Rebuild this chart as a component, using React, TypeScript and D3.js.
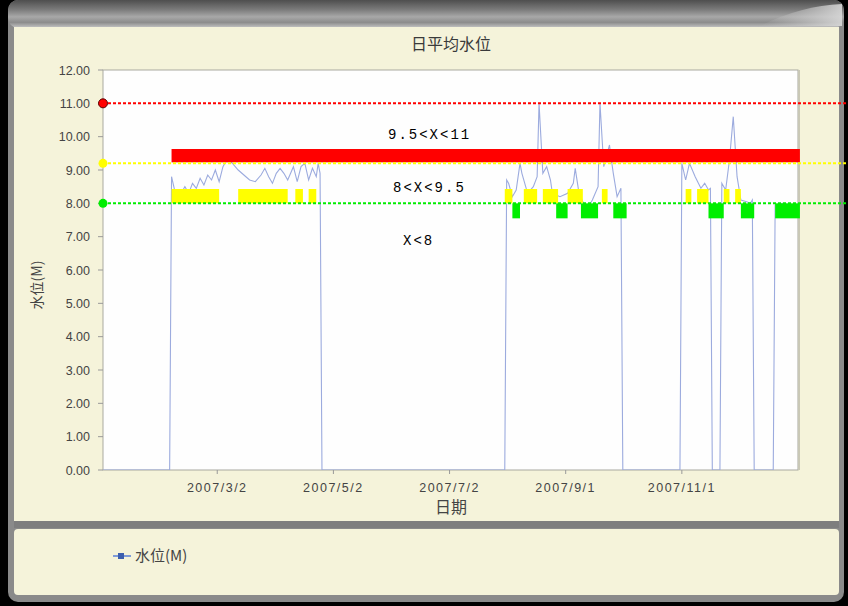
import React from 'react';
import * as d3 from 'd3';

// 日平均水位 (daily mean water level), 2007
const levelDates = [
  '2007-01-01', '2007-02-05', '2007-02-06', '2007-02-08', '2007-02-10', '2007-02-13', '2007-02-15',
  '2007-02-17', '2007-02-19', '2007-02-21', '2007-02-23', '2007-02-25', '2007-02-27', '2007-03-01',
  '2007-03-03', '2007-03-05', '2007-03-07', '2007-03-10', '2007-03-13', '2007-03-16', '2007-03-19',
  '2007-03-22', '2007-03-25', '2007-03-27', '2007-03-29', '2007-03-31', '2007-04-02', '2007-04-04',
  '2007-04-06', '2007-04-08', '2007-04-11', '2007-04-13', '2007-04-15', '2007-04-17', '2007-04-19',
  '2007-04-21', '2007-04-23', '2007-04-24', '2007-04-25', '2007-04-26',
  '2007-07-31', '2007-08-01', '2007-08-02', '2007-08-04', '2007-08-06', '2007-08-08', '2007-08-09',
  '2007-08-12', '2007-08-15', '2007-08-17', '2007-08-18', '2007-08-20', '2007-08-22', '2007-08-24',
  '2007-08-25', '2007-08-29', '2007-09-02', '2007-09-05', '2007-09-06', '2007-09-08', '2007-09-12',
  '2007-09-15', '2007-09-18', '2007-09-19', '2007-09-21', '2007-09-24', '2007-09-25', '2007-09-26',
  '2007-09-28', '2007-09-30', '2007-10-01',
  '2007-10-31', '2007-11-01', '2007-11-03', '2007-11-05', '2007-11-08', '2007-11-11', '2007-11-13',
  '2007-11-15', '2007-11-16', '2007-11-17', '2007-11-21', '2007-11-22', '2007-11-24', '2007-11-26',
  '2007-11-28', '2007-11-30', '2007-12-02', '2007-12-05', '2007-12-07', '2007-12-08', '2007-12-09',
  '2007-12-19', '2007-12-20', '2007-12-24', '2007-12-28', '2007-12-31'
];
const levelValues = [
  0, 0, 8.8, 8.3, 8.2, 8.5, 8.3,
  8.6, 8.45, 8.75, 8.55, 8.85, 8.7, 9.0,
  8.65, 9.1, 9.3, 9.2, 9.0, 8.85, 8.7,
  8.65, 8.85, 9.05, 8.8, 8.6, 8.9, 9.05,
  8.9, 8.7, 9.1, 8.65, 9.1, 9.2, 8.7,
  9.05, 8.8, 9.2, 8.9, 0,
  0, 8.7, 8.6, 8.2, 8.4, 9.2, 8.9,
  8.3, 8.5, 8.8, 11.0, 8.9, 9.1, 8.7,
  8.3, 8.2, 8.3, 8.6, 9.05, 8.3, 7.8,
  8.1, 8.5, 11.0, 9.1, 9.75, 9.3, 8.9,
  8.2, 8.45, 0,
  0, 9.2, 8.7, 9.2, 8.8, 8.45, 8.6,
  8.4, 8.45, 0, 0, 8.6, 8.4, 9.3,
  10.6, 8.8, 8.1, 8.05, 8.0, 8.1, 0,
  0, 7.95, 8.0, 7.95, 7.95
];

// warning levels
const thresholdValues = [11, 9.2, 8];
const bandLabels = ['9.5<X<11', '8<X<9.5', 'X<8'];

// periods falling in each band
const redSpans = [['2007-02-06', '2008-01-02']];
const yellowSpans = [
  ['2007-02-06', '2007-03-03'], ['2007-03-13', '2007-04-08'], ['2007-04-12', '2007-04-16'],
  ['2007-04-19', '2007-04-23'], ['2007-07-31', '2007-08-04'], ['2007-08-10', '2007-08-17'],
  ['2007-08-20', '2007-08-28'], ['2007-09-02', '2007-09-10'], ['2007-09-20', '2007-09-23'],
  ['2007-11-03', '2007-11-06'], ['2007-11-09', '2007-11-15'], ['2007-11-23', '2007-11-26'],
  ['2007-11-29', '2007-12-02']
];
const greenSpans = [
  ['2007-08-04', '2007-08-08'], ['2007-08-27', '2007-09-02'], ['2007-09-09', '2007-09-18'],
  ['2007-09-26', '2007-10-03'], ['2007-11-15', '2007-11-23'], ['2007-12-02', '2007-12-09'],
  ['2007-12-20', '2008-01-02']
];
const bandLow = [9.23, 8.0, 7.55];
const bandHigh = [9.63, 8.43, 8.0];

const xTicks = ['2007-03-02', '2007-05-02', '2007-07-02', '2007-09-01', '2007-11-01'];
const yTicks = [0, 1, 2, 3, 4, 5, 6, 7, 8, 9, 10, 11, 12];

const W = 848;
const H = 606;
const plot = { left: 103, right: 798, top: 70, bottom: 470 };
const bandColors = ['#ff0000', '#ffff00', '#00ee00'];
const dotStroke = ['#5a0000', 'none', 'none'];
const cream = '#f5f3da';
const tickFont = '"Liberation Sans", Arial, sans-serif';
const cjkFont = '"Noto Sans CJK SC", "Noto Sans", sans-serif';

const parse = d3.timeParse('%Y-%m-%d');

export default function App() {
  const x = d3.scaleTime()
    .domain([parse('2007-01-01'), parse('2008-01-01')])
    .range([plot.left, plot.right]);
  const y = d3.scaleLinear().domain([0, 12]).range([plot.bottom, plot.top]);
  const fmt = d3.timeFormat('%Y/%-m/%-d');

  const points = levelDates.map((d, i) => [parse(d), levelValues[i]]);
  const line = d3.line()
    .x(d => x(d[0]))
    .y(d => y(d[1]));

  const spanSets = [redSpans, yellowSpans, greenSpans];

  return (
    <svg width={W} height={H} style={{ position: 'absolute', left: 0, top: 0 }}>
      <defs>
        <linearGradient id="topbar" x1="0" y1="0" x2="0" y2="1">
          <stop offset="0" stopColor="#4e4e4e" />
          <stop offset="0.35" stopColor="#7c7c7c" />
          <stop offset="0.6" stopColor="#a8a8a8" />
          <stop offset="0.8" stopColor="#8c8c8c" />
          <stop offset="1" stopColor="#c8c8c8" />
        </linearGradient>
        <linearGradient id="swoosh" x1="0" y1="0" x2="1" y2="0">
          <stop offset="0" stopColor="#c8c8c8" stopOpacity="0" />
          <stop offset="1" stopColor="#d8d8d8" stopOpacity="0.9" />
        </linearGradient>
        <clipPath id="plotclip">
          <rect x={plot.left} y={plot.top - 2} width={plot.right - plot.left + 4} height={plot.bottom - plot.top + 2} />
        </clipPath>
      </defs>

      {/* window frame */}
      <rect x={0} y={0} width={W} height={H} fill="#000" />
      <rect x={8} y={0} width={836} height={602} rx={10} fill="#8a8a8a" />
      <rect x={8} y={0} width={836} height={28} rx={10} fill="url(#topbar)" />
      <path d="M 760 26 Q 800 6 842 4 L 842 26 Z" fill="url(#swoosh)" />
      <rect x={14} y={27} width={825} height={494} fill={cream} />
      <rect x={14} y={521} width={825} height={7} fill="#7e7e7e" />
      <rect x={14} y={529} width={825} height={66} rx={4} fill={cream} />

      {/* plot area */}
      <rect x={plot.left} y={plot.top} width={plot.right - plot.left} height={plot.bottom - plot.top}
        fill="#fefefe" stroke="#a9a9a0" strokeWidth={1} />
      <line x1={plot.right + 1} x2={plot.right + 1} y1={plot.top} y2={plot.bottom} stroke="#c9c8b6" strokeWidth={2} />

      {/* y axis */}
      {yTicks.map(t => (
        <g key={'y' + t}>
          <line x1={plot.left - 5} x2={plot.left} y1={y(t)} y2={y(t)} stroke="#999" />
          <text x={90} y={y(t) + 4.5} textAnchor="end" fontFamily={tickFont} fontSize={12.5} fill="#444">
            {d3.format('.2f')(t)}
          </text>
        </g>
      ))}
      <text transform={`translate(42,285) rotate(-90)`} textAnchor="middle" fontFamily={cjkFont} fontSize={14} fill="#444">
        水位(M)
      </text>

      {/* x axis */}
      {xTicks.map(t => (
        <g key={t}>
          <line x1={x(parse(t))} x2={x(parse(t))} y1={plot.bottom} y2={plot.bottom + 4} stroke="#999" />
          <text x={x(parse(t))} y={492} textAnchor="middle" fontFamily={tickFont} fontSize={12.5}
            letterSpacing={1.5} fill="#444">
            {fmt(parse(t))}
          </text>
        </g>
      ))}
      <text x={451} y={513} textAnchor="middle" fontFamily={cjkFont} fontSize={16} fill="#444">日期</text>

      {/* title */}
      <text x={451} y={50} textAnchor="middle" fontFamily={cjkFont} fontSize={16} fill="#3a3a3a">日平均水位</text>

      {/* series */}
      <path d={line(points)} fill="none" stroke="#9cabde" strokeWidth={1.1} clipPath="url(#plotclip)" />

      {/* band bars */}
      {spanSets.map((spans, bi) => spans.map((s, i) => (
        <rect key={bi + '-' + i}
          x={x(parse(s[0]))} width={x(parse(s[1])) - x(parse(s[0]))}
          y={y(bandHigh[bi])} height={y(bandLow[bi]) - y(bandHigh[bi])}
          fill={bandColors[bi]} />
      )))}

      {/* threshold lines */}
      {thresholdValues.map((v, i) => (
        <g key={'th' + v}>
          <line x1={plot.left} x2={W} y1={y(v)} y2={y(v)} stroke={bandColors[i]} strokeWidth={2}
            strokeDasharray="3,2" />
          <circle cx={plot.left} cy={y(v)} r={4.5} fill={bandColors[i]} stroke={dotStroke[i]} strokeWidth={1} />
        </g>
      ))}

      {/* band labels */}
      {bandLabels.map((lab, i) => (
        <text key={lab} x={[388, 393, 403][i]} y={[139, 192, 245][i]}
          fontFamily='"Liberation Mono", "DejaVu Sans Mono", monospace' fontSize={14} letterSpacing={2} fill="#000">
          {lab}
        </text>
      ))}

      {/* legend */}
      <line x1={113} x2={131} y1={556} y2={556} stroke="#7f9bd8" strokeWidth={2} />
      <rect x={118} y={553} width={6} height={6} fill="#3d5fae" />
      <text x={135} y={561} fontFamily={cjkFont} fontSize={15} fill="#444">水位(M)</text>
    </svg>
  );
}
